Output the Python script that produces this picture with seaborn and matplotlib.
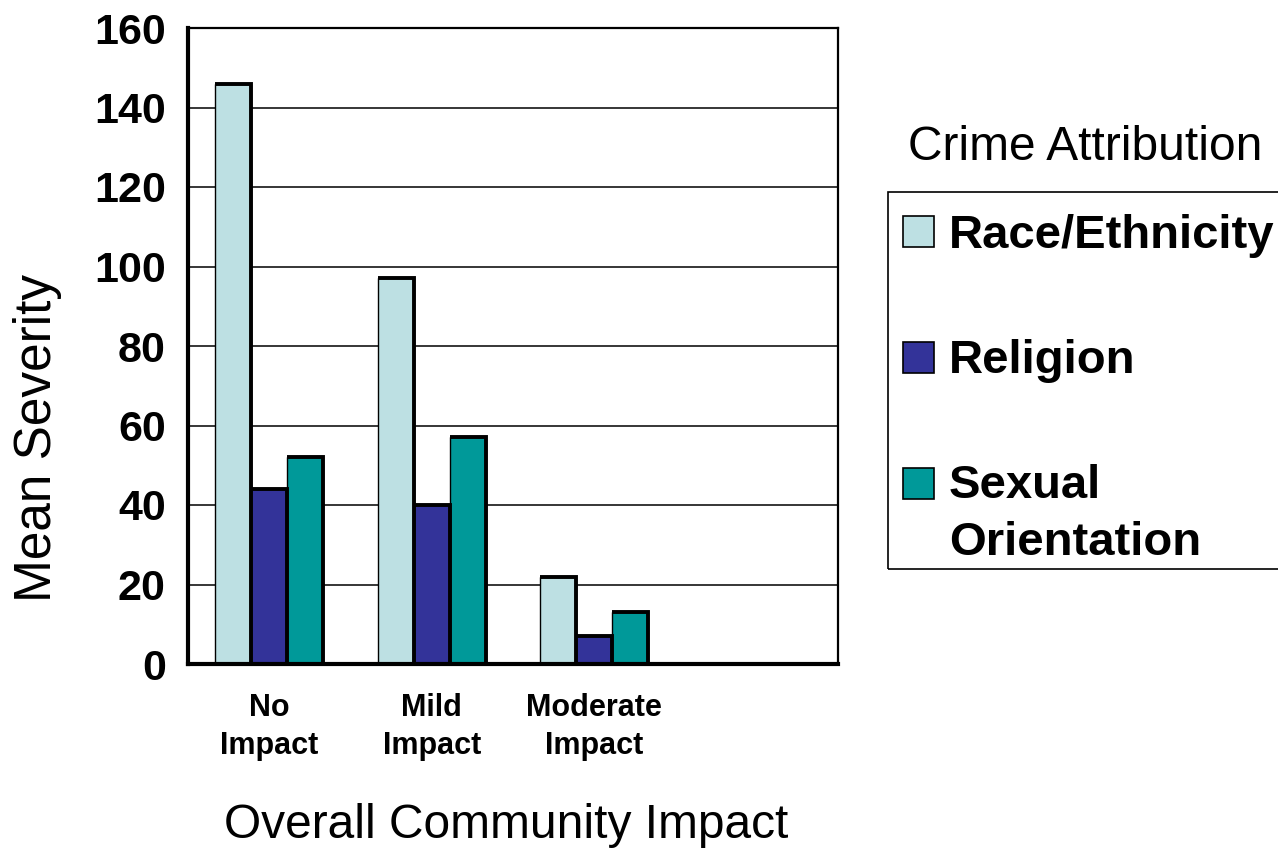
import numpy as np
import pandas as pd
import matplotlib
matplotlib.use("Agg")
import matplotlib.pyplot as plt
from matplotlib.patches import Rectangle
import seaborn as sns

# Data
impact_levels = ["No\nImpact", "Mild\nImpact", "Moderate\nImpact", " "]
attributions = ["Race/Ethnicity", "Religion", "Sexual\nOrientation"]
race_ethnicity = [146, 97, 22]
religion = [44, 40, 7]
sexual_orientation = [52, 57, 13]
y_ticks = [0, 20, 40, 60, 80, 100, 120, 140, 160]

colors = ["#BDE0E3", "#333399", "#009999"]

sns.set_style("white")
plt.rcParams["font.family"] = ["Liberation Sans", "DejaVu Sans"]
plt.rcParams.update({"text.color": "black", "axes.labelcolor": "black",
                     "xtick.color": "black", "ytick.color": "black"})

rows = []
for series, vals in zip(attributions, [race_ethnicity, religion, sexual_orientation]):
    for lvl, v in zip(impact_levels, vals):
        rows.append({"impact": lvl, "attribution": series, "severity": v})
df = pd.DataFrame(rows)

fig = plt.figure(figsize=(12.78, 8.52), dpi=100)
ax = fig.add_axes([188 / 1278, 1 - 664 / 852, 650 / 1278, 636 / 852])

sns.barplot(data=df, x="impact", y="severity", hue="attribution",
            order=impact_levels, hue_order=attributions, palette=colors,
            width=0.667, saturation=1, edgecolor="black", linewidth=1.0,
            legend=False, ax=ax, zorder=3)

# Shadow-style heavy outline along the top and right of each bar
for p in ax.patches:
    x, w, h = p.get_x(), p.get_width(), p.get_height()
    if np.isnan(h) or h <= 0:
        continue
    ax.plot([x, x + w, x + w], [h, h, 0], color="black", lw=2.8,
            solid_joinstyle="miter", solid_capstyle="butt", zorder=4)

ax.set_xlim(-0.5, 3.5)
ax.set_ylim(0, 160)
ax.set_yticks(y_ticks)
ax.set_yticklabels([str(t) for t in y_ticks], fontsize=31, fontweight="bold",
                   color="black")
ax.set_axisbelow(True)
ax.yaxis.grid(True, color="black", lw=1.1, zorder=0)
ax.xaxis.grid(False)

ax.set_xticks(range(len(impact_levels)))
ax.set_xticklabels(impact_levels, fontsize=22, fontweight="bold",
                   linespacing=1.35, color="black")
ax.set_xticks(np.arange(-0.5, len(impact_levels), 1.0), minor=True)
ax.tick_params(axis="x", which="major", length=0, pad=21)
ax.tick_params(axis="x", which="minor", length=9, width=1.5, direction="out", color="black")
ax.tick_params(axis="y", which="major", length=6, width=1.5, direction="out", color="black", pad=10)

for side, lw in [("left", 3.0), ("bottom", 3.0), ("top", 1.6), ("right", 1.6)]:
    ax.spines[side].set_visible(True)
    ax.spines[side].set_color("black")
    ax.spines[side].set_linewidth(lw)
    ax.spines[side].set_zorder(5)

ax.set_ylabel("Mean Severity", fontsize=37, color="black")
ax.yaxis.set_label_coords(-0.232, 0.356)
ax.yaxis.label.set_va("center")
ax.set_xlabel("Overall Community Impact", fontsize=34.5, color="black")
ax.xaxis.set_label_coords(0.49, -0.254)
ax.xaxis.label.set_va("center")

# Legend: title above a framed key
W, H = 1278, 852
fig.text(908 / W, 1 - 147 / H, "Crime Attribution", fontsize=34.5,
         ha="left", va="center", color="black")
fig.patches.append(Rectangle((888 / W, 1 - 569 / H), 420 / W, 377 / H,
                             transform=fig.transFigure, fill=False,
                             edgecolor="black", lw=1.2))
key_rows = [(216, 248, ["Race/Ethnicity"]),
            (342, 373, ["Religion"]),
            (468, 498, ["Sexual", "Orientation"])]
for (top, base, lines), col in zip(key_rows, colors):
    fig.patches.append(Rectangle((903 / W, 1 - (top + 31) / H), 31 / W, 31 / H,
                                 transform=fig.transFigure, facecolor=col,
                                 edgecolor="black", lw=1.2))
    for i, line in enumerate(lines):
        fig.text(949 / W, 1 - (base + 57 * i) / H, line, fontsize=34,
                 fontweight="bold", ha="left", va="baseline", color="black")

fig.savefig("out.png", dpi=100)
